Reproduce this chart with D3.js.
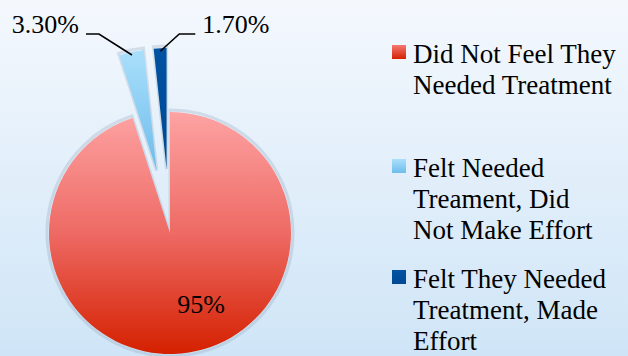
<!DOCTYPE html>
<html>
<head>
<meta charset="utf-8">
<script src="https://cdn.jsdelivr.net/npm/d3@7"></script>
</head>
<body style="margin:0">
<svg id="chart" width="628" height="356"></svg>
<script>
// slices, clockwise from 12 o'clock
var categories = ['Did Not Feel They Needed Treatment', 'Felt Needed Treament, Did Not Make Effort', 'Felt They Needed Treatment, Made Effort'];
var values = [95, 3.3, 1.7];
var valueLabels = ['95%', '3.30%', '1.70%'];
// legend text, broken as in the picture
var legendLines = [
    ['Did Not Feel They', 'Needed Treatment'],
    ['Felt Needed', 'Treament, Did', 'Not Make Effort'],
    ['Felt They Needed', 'Treatment, Made', 'Effort']
];
var exploded = [false, true, true];

var svg = d3.select('#chart');
var W = 628, H = 356;
var cx = 170, cy = 233, r = 121, explode = 64;

var defs = svg.append('defs');

function vGrad(id, stops, units) {
    var g = defs.append('linearGradient').attr('id', id)
        .attr('x1', 0).attr('x2', 0).attr('y1', 0).attr('y2', 1);
    if (units) {
        g.attr('gradientUnits', 'userSpaceOnUse')
            .attr('y1', units[0]).attr('y2', units[1]);
    }
    stops.forEach(function (s) {
        g.append('stop').attr('offset', s[0]).attr('stop-color', s[1]);
    });
}

vGrad('bg', [[0, '#f4f8fd'], [1, '#cfe5f7']]);
// pie group is translated to the centre, so these are relative
vGrad('g0', [[0, '#fda3a3'], [0.5, '#ee6a64'], [1, '#d42000']], [-r, r]);
vGrad('g1', [[0, '#aadffb'], [1, '#6ebdec']]);
vGrad('g2', [[0, '#0052a2'], [1, '#004893']]);
vGrad('l0', [[0, '#f47a72'], [1, '#d42000']]);

svg.append('rect').attr('width', W).attr('height', H).attr('fill', 'url(#bg)');

var pie = d3.pie().sort(null).value(function (d) { return d; });
var arcs = pie(values);
var arc = d3.arc().innerRadius(0).outerRadius(r);
var halo = d3.arc().innerRadius(0).outerRadius(r + 2);

function offsetOf(d, i) {
    if (!exploded[i]) return [0, 0];
    var a = (d.startAngle + d.endAngle) / 2;
    return [Math.sin(a) * explode, -Math.cos(a) * explode];
}
function shift(d, i) {
    var o = offsetOf(d, i);
    return 'translate(' + o[0] + ',' + o[1] + ')';
}

var g = svg.append('g').attr('transform', 'translate(' + cx + ',' + cy + ')');

// soft edge instead of a blur filter
g.selectAll('path.halo')
    .data(arcs)
    .enter().append('path')
    .attr('class', 'halo')
    .attr('d', halo)
    .attr('fill', 'none')
    .attr('stroke', '#7f98ae')
    .attr('stroke-opacity', 0.25)
    .attr('stroke-width', 3)
    .attr('transform', shift);

g.selectAll('path.slice')
    .data(arcs)
    .enter().append('path')
    .attr('class', 'slice')
    .attr('d', arc)
    .attr('fill', function (d, i) { return 'url(#g' + i + ')'; })
    .attr('transform', shift);

// 95% label inside the big slice, low and right of centre
var inner = d3.arc().innerRadius(r * 0.64).outerRadius(r * 0.64);
var c0 = inner.centroid({ startAngle: 2.73, endAngle: 2.73 });

// leader lines for the two small slices
var labelY = 34 - cy;
var sides = [null, -1, 1];
var elbowDx = [0, 33, 19];
var tailLen = [0, 13, 16];
var pctPos = [[cx + c0[0], cy + c0[1] + 9, 'middle']];
[1, 2].forEach(function (i) {
    var d = arcs[i];
    var o = offsetOf(d, i);
    var a = (d.startAngle + d.endAngle) / 2;
    var edge = [o[0] + Math.sin(a) * (r - 3), o[1] - Math.cos(a) * (r - 3)];
    var s = sides[i];
    var elbow = [edge[0] + s * elbowDx[i], labelY];
    var end = [elbow[0] + s * tailLen[i], labelY];
    g.append('polyline')
        .attr('points', [edge, elbow, end].map(function (p) { return p.join(','); }).join(' '))
        .attr('fill', 'none')
        .attr('stroke', '#000')
        .attr('stroke-width', 1.6);
    pctPos.push([cx + end[0] + s * 7, cy + labelY - 1, s < 0 ? 'end' : 'start']);
});

svg.selectAll('text.pct')
    .data(valueLabels)
    .enter().append('text')
    .attr('class', 'pct')
    .attr('x', function (d, i) { return pctPos[i][0]; })
    .attr('y', function (d, i) { return pctPos[i][1]; })
    .attr('text-anchor', function (d, i) { return pctPos[i][2]; })
    .style('font-family', "'Times New Roman'")
    .attr('font-size', 26)
    .text(function (d) { return d; });

// legend
var legendTop = [63, 177, 288];
var lineH = 30.8;
var fams = ["'Liberation Serif'", "'Liberation Serif'", "'Tinos'"];
legendLines.forEach(function (lines, i) {
    svg.append('rect')
        .attr('x', 392).attr('y', legendTop[i] - 18)
        .attr('width', 14).attr('height', 14)
        .attr('fill', i === 0 ? 'url(#l0)' : 'url(#g' + i + ')');
    var t = svg.selectAll('text.leg' + i)
        .data(lines)
        .enter().append('text')
        .attr('class', 'leg' + i)
        .attr('x', 413)
        .attr('y', function (d, j) { return legendTop[i] + j * lineH; });
    if (i === 1) t.attr('font-family', 'Liberation Serif');
    else t.style('font-family', fams[i]);
    t.attr('font-size', 27)
        .text(function (d) { return d; });
});
</script>
</body>
</html>
